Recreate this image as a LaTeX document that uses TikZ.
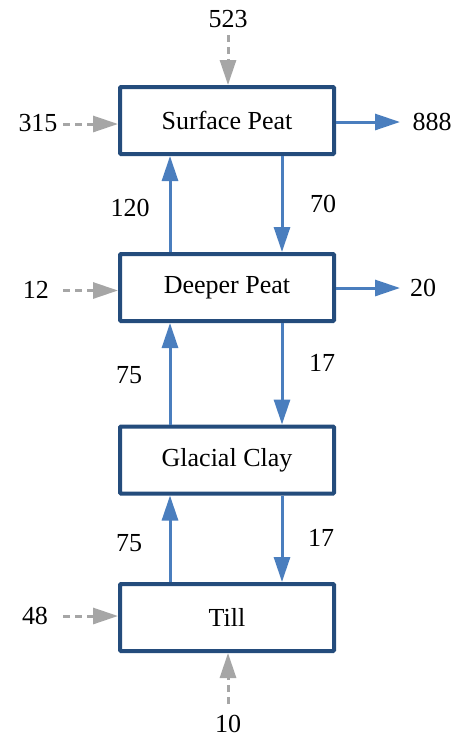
\documentclass[tikz,border=0pt]{standalone}
\usepackage{fontspec}
\setmainfont{Liberation Serif}
\usetikzlibrary{arrows.meta}
\definecolor{boxc}{HTML}{244C7C}
\definecolor{flowc}{HTML}{4A7EBE}
\definecolor{grayc}{HTML}{A6A6A6}
\begin{document}
\begin{tikzpicture}[x=1pt,y=-1pt,
  every node/.style={font=\rmfamily\fontsize{26}{30}\selectfont},
  layer/.style={draw=boxc, line width=4pt, rounded corners=1pt, minimum width=214pt, minimum height=67pt, inner sep=0pt, fill=white},
  num/.style={inner sep=0pt},
  flow/.style={draw=flowc, line width=3pt, -{Triangle[length=25pt,width=16pt]}},
  inflow/.style={draw=grayc, line width=3pt, dash pattern=on 7pt off 5pt, -{Triangle[length=25pt,width=16pt]}}]
\useasboundingbox (0,0) rectangle (458,740);
\node[layer] (surface) at (227,120.5) {Surface Peat};
\node[layer] (deeper) at (227,287.5) {Deeper Peat};
\node[layer] (clay) at (227,460) {Glacial Clay};
\node[layer] (till) at (227,617.5) {Till};
\coordinate (L) at (170,0);
\coordinate (R) at (282,0);
% internal flows
\draw[flow] (L |- deeper.north) -- (L |- surface.south);
\draw[flow] (R |- surface.south) -- (R |- deeper.north);
\draw[flow] (L |- clay.north) -- (L |- deeper.south);
\draw[flow] (R |- deeper.south) -- (R |- clay.north);
\draw[flow] (L |- till.north) -- (L |- clay.south);
\draw[flow] (R |- clay.south) -- (R |- till.north);
\node[num] (l120) at (130,208) {120};
\node[num] (l70) at (323,204) {70};
\node[num] (l75a) at (129,375) {75};
\node[num] (l17a) at (322,363) {17};
\node[num] (l75b) at (129,543) {75};
\node[num] (l17b) at (321,538) {17};
% outflows
\node[num] (l888) at (432,122) {888};
\node[num] (l20) at (423,288) {20};
\coordinate (t888) at (400,122);
\coordinate (t20) at (400,288);
\draw[flow] (surface.east |- t888) -- (t888);
\draw[flow] (deeper.east |- t20) -- (t20);
% inflows
\node[num] (l523) at (228,19) {523};
\coordinate (s523) at (228,35);
\draw[inflow] (s523) -- (s523 |- surface.north);
\node[num] (l315) at (38,123) {315};
\coordinate (s315) at (63,124);
\draw[inflow] (s315) -- (s315 -| surface.west);
\node[num] (l12) at (36,290) {12};
\coordinate (s12) at (63,290.5);
\draw[inflow] (s12) -- (s12 -| deeper.west);
\node[num] (l48) at (35,616) {48};
\coordinate (s48) at (63,616);
\draw[inflow] (s48) -- (s48 -| till.west);
\node[num] (l10) at (228,724) {10};
\coordinate (s10) at (228,704);
\draw[inflow] (s10) -- (s10 |- till.south);
\end{tikzpicture}
\end{document}
